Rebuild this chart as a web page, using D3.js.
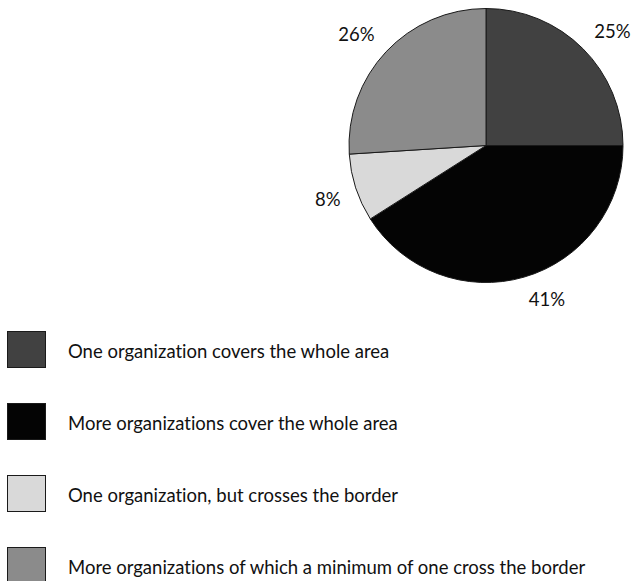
<!DOCTYPE html>
<html>
<head>
<meta charset="utf-8">
<script src="https://cdn.jsdelivr.net/npm/d3@7"></script>
<style>
  html, body { margin: 0; padding: 0; background: #fff; }
  svg { display: block; }
  text { font-family: Lato, "Open Sans", sans-serif; fill: #111; font-variant-ligatures: none; }
</style>
</head>
<body>
<svg id="chart" width="636" height="581"></svg>
<script>
// Share of areas by organizational coverage
const categories = [
  "One organization covers the whole area",
  "More organizations cover the whole area",
  "One organization, but crosses the border",
  "More organizations of which a minimum of one cross the border"
];
const values = [25, 41, 8, 26];
const labels = ["25%", "41%", "8%", "26%"];
const colors = ["#414141", "#040404", "#d9d9d9", "#8b8b8b"];

const svg = d3.select("#chart");
const cx = 486, cy = 145.5, radius = 137;
const labelGap = 16, capHeight = 13;

const pie = d3.pie().sort(null).value(d => d)(values);
const arc = d3.arc().innerRadius(0).outerRadius(radius);
const anchorArc = d3.arc().innerRadius(radius + labelGap).outerRadius(radius + labelGap);

const g = svg.append("g").attr("transform", `translate(${cx},${cy})`);

g.selectAll("path.slice")
  .data(pie)
  .join("path")
  .attr("class", "slice")
  .attr("d", arc)
  .attr("fill", (d, i) => colors[i])
  .attr("stroke", "#1a1a1a")
  .attr("stroke-width", 1);

// Outside-end labels: the label corner nearest the pie sits on the slice's mid-angle ray
g.selectAll("text.pct")
  .data(pie)
  .join("text")
  .attr("class", "pct")
  .attr("text-anchor", "middle")
  .attr("dominant-baseline", "central")
  .style("font-size", "18.5px")
  .text((d, i) => labels[i])
  .each(function (d) {
    const w = this.getComputedTextLength();
    const mid = (d.startAngle + d.endAngle) / 2;
    const [px, py] = anchorArc.centroid(d);
    const x = px + Math.sign(Math.sin(mid)) * w / 2;
    const y = py - Math.sign(Math.cos(mid)) * capHeight / 2;
    d3.select(this).attr("transform", `translate(${x},${y})`);
  });

// Legend
const legend = svg.append("g").attr("transform", "translate(7,331)");
const rowGap = 72;
const rows = legend.selectAll("g.row")
  .data(categories)
  .join("g")
  .attr("class", "row")
  .attr("transform", (d, i) => `translate(0,${i * rowGap})`);

rows.append("rect")
  .attr("x", 0.5).attr("y", 0.5)
  .attr("width", 38).attr("height", 36)
  .attr("fill", (d, i) => colors[i])
  .attr("stroke", "#1a1a1a")
  .attr("stroke-width", 1);

rows.append("text")
  .attr("x", 61)
  .attr("y", 20)
  .attr("dominant-baseline", "central")
  .style("font-size", "18.5px")
  .text(d => d);
</script>
</body>
</html>
